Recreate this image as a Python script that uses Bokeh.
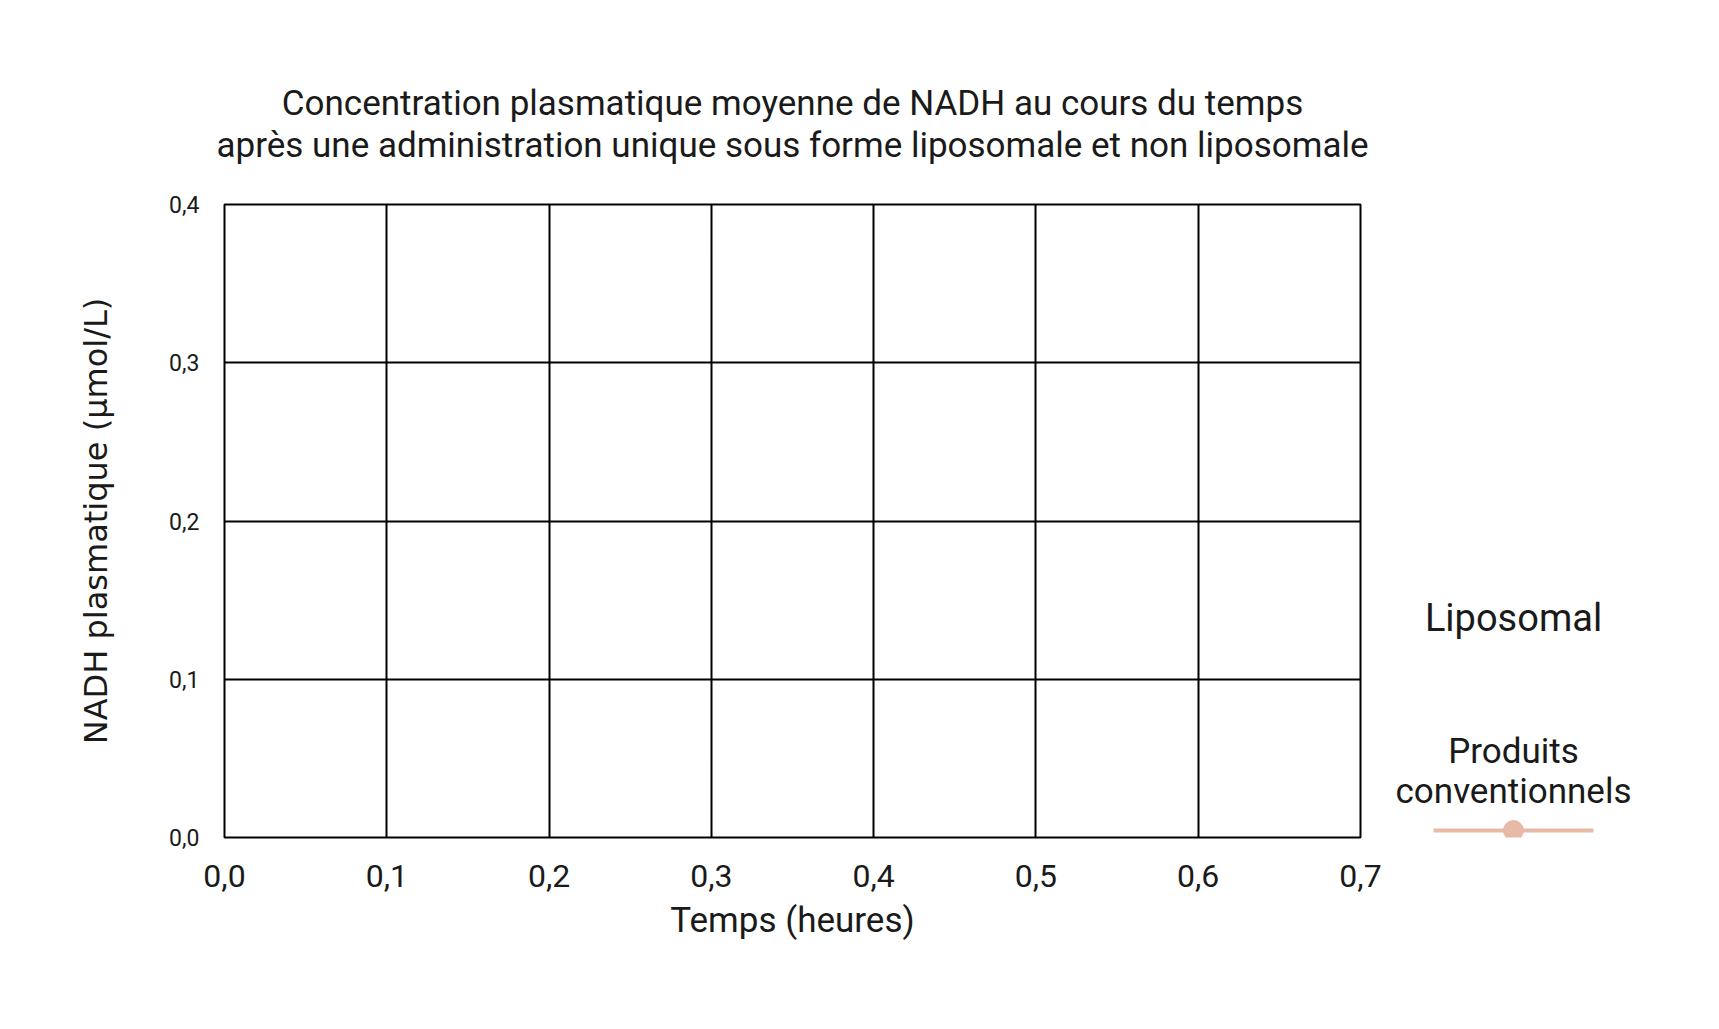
from bokeh.plotting import figure
from bokeh.models import (Range1d, FixedTicker, CustomJSTickFormatter, Title,
                          ColumnDataSource)
from bokeh.layouts import row
from bokeh.core.properties import value
from bokeh.embed import file_html
from bokeh.resources import INLINE

# ---- data (the reference chart shows no plotted values) ----
title_lines = ["Concentration plasmatique moyenne de NADH au cours du temps",
               "après une administration unique sous forme liposomale et non liposomale"]
x_label = "Temps (heures)"
y_label = "NADH plasmatique (µmol/L)"
x_ticks = [0.0, 0.1, 0.2, 0.3, 0.4, 0.5, 0.6, 0.7]
y_ticks = [0.0, 0.1, 0.2, 0.3, 0.4]
series_names = ["Liposomal", "Produits", "conventionnels"]
time_h = []
liposomal = []
conventionnels = []

SALMON = "#E9B9A7"
TXT = "#1a1a1a"
FONT = "Roboto"

# layout constants (pixels)
FL, FT, FW, FH = 224, 204, 1136, 633
BR, BB = 25, 160

p = figure(title=None, output_backend="svg", toolbar_location=None,
           frame_width=FW, frame_height=FH,
           min_border_left=FL, min_border_top=FT,
           min_border_bottom=BB, min_border_right=BR,
           x_range=Range1d(x_ticks[0], x_ticks[-1]),
           y_range=Range1d(y_ticks[0], y_ticks[-1]))
p.background_fill_color = "white"
p.border_fill_color = "white"
p.outline_line_color = "black"
p.outline_line_width = 2

# series (empty in the reference)
p.line(time_h, liposomal, line_color="#8fb3c9", line_width=4)
p.line(time_h, conventionnels, line_color=SALMON, line_width=4)
p.scatter(time_h, conventionnels, size=21, color=SALMON)

fmt = CustomJSTickFormatter(code="return tick.toFixed(1).replace('.', ',');")

p.xaxis.ticker = FixedTicker(ticks=x_ticks)
p.yaxis.ticker = FixedTicker(ticks=y_ticks)
p.xaxis.formatter = fmt
p.yaxis.formatter = fmt
for ax in (p.xaxis, p.yaxis):
    ax.axis_line_color = None
    ax.major_tick_line_color = None
    ax.minor_tick_line_color = None
    ax.major_tick_out = 0
    ax.major_tick_in = 0
    ax.major_label_text_font = FONT
    ax.major_label_text_color = TXT

p.xaxis.major_label_text_font_size = "32px"
p.xaxis.major_label_standoff = 27
p.xaxis.axis_label = x_label
p.xaxis.axis_label_text_font = FONT
p.xaxis.axis_label_text_font_size = "35px"
p.xaxis.axis_label_text_font_style = "normal"
p.xaxis.axis_label_text_color = TXT
p.xaxis.axis_label_standoff = 10

p.yaxis.major_label_text_font_size = "23px"
p.yaxis.major_label_standoff = 25
p.yaxis.axis_label = y_label
p.yaxis.axis_label_text_font = "DejaVu Sans"
p.yaxis.axis_label_text_font_size = "32px"
p.yaxis.axis_label_text_font_style = "normal"
p.yaxis.axis_label_text_color = TXT
p.yaxis.axis_label_standoff = 51

p.xgrid.ticker = FixedTicker(ticks=x_ticks)
p.ygrid.ticker = FixedTicker(ticks=y_ticks)
for g in (p.xgrid, p.ygrid):
    g.grid_line_color = "black"
    g.grid_line_width = 2
    g.grid_line_alpha = 1.0

# titles: first added sits closest to the frame (a blank spacer comes first)
p.add_layout(Title(text=" ", text_font_size="1px", standoff=36), "above")
p.add_layout(Title(text=title_lines[1], align="center", text_font=FONT,
                   text_font_size="35px", text_font_style="normal",
                   text_color=TXT, standoff=-1), "above")
p.add_layout(Title(text=title_lines[0], align="center", text_font=FONT,
                   text_font_size="35px", text_font_style="normal",
                   text_color=TXT, standoff=-1), "above")

# ---- legend panel: its frame is aligned with the main frame (page pixels) ----
LX0, LW = FL + FW + BR, 300
leg = figure(title=None, output_backend="svg", toolbar_location=None,
             frame_width=LW, frame_height=FH,
             min_border_left=0, min_border_right=0,
             min_border_top=FT, min_border_bottom=BB,
             x_range=Range1d(LX0, LX0 + LW), y_range=Range1d(FT + FH, FT))
leg.axis.visible = False
leg.grid.visible = False
leg.outline_line_color = None
leg.background_fill_color = "white"
leg.border_fill_color = "white"

lab_src = ColumnDataSource(dict(x=[1513, 1513, 1513], y=[617, 751, 791],
                                size=["38px", "35px", "35px"],
                                text=series_names))
leg.text(x="x", y="y", text="text", source=lab_src,
         text_font=value(FONT), text_font_size="size",
         text_align="center", text_baseline="middle", text_color=TXT)

# legend symbol for "Produits conventionnels"
leg.line(x=[1433, 1593], y=[830, 830], line_color=SALMON, line_width=4)
leg.scatter(x=[1513], y=[830], size=20, color=SALMON)

layout = row(p, leg, spacing=0)
open("out.html", "w").write(file_html(layout, INLINE))
